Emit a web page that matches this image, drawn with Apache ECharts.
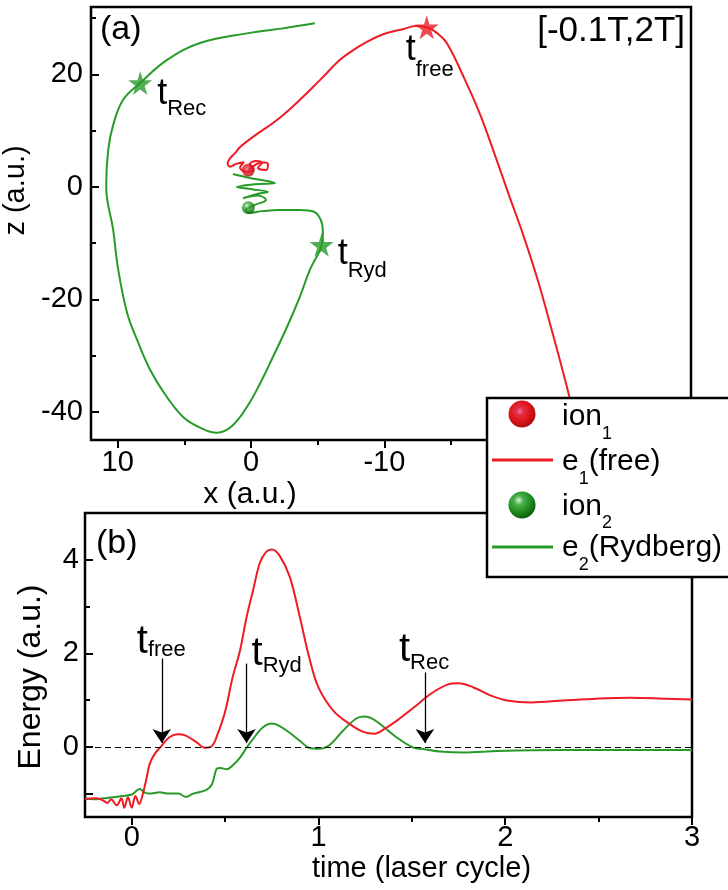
<!DOCTYPE html>
<html>
<head>
<meta charset="utf-8">
<script src="https://cdn.jsdelivr.net/npm/echarts@6/dist/echarts.min.js"></script>
<style>
  html, body { margin: 0; padding: 0; background: #fff; }
  #chart { width: 728px; height: 890px; }
</style>
</head>
<body>
<div id="chart"></div>
<script>
// ---- (a) electron trajectories in the x-z plane, window [-0.1T, 2T] ----
const e1X = [0.22, -0.3, -0.82, -1.27, -1.12, -0.52, -0.82, -0.37, 0.07, -0.15, 0.37, 0.82, 0.52, 1.12, 1.57, 1.75, 1.6, 1.2, 0.82, -0.15, -1.95, -3.67, -5.17, -6.67, -7.64, -8.46, -9.96, -11.46, -12.36, -13.18, -13.93, -14.68, -15.96, -17.15, -18.35, -19.4, -20.37, -21.5, -22.55, -23.75, -24.64];
const e1Z = [3.0, 3.9, 4.4, 4.1, 3.0, 3.4, 4.3, 4.6, 4.1, 3.0, 2.7, 3.4, 4.4, 4.1, 3.6, 4.2, 5.0, 6.0, 7.1, 8.9, 11.9, 15.5, 19.0, 22.6, 24.3, 25.5, 27.2, 28.1, 28.6, 28.4, 27.4, 25.6, 19.5, 13.1, 5.3, -1.8, -8.2, -16.5, -25.4, -36.1, -44.9];
const e2X = [1.35, 0.07, -1.8, -0.3, 1.05, -0.07, -1.27, -0.52, 0.6, -0.5, -1.12, -0.3, 0.37, 0.07, -0.82, -2.17, -3.67, -4.72, -5.24, -5.39, -5.3, -4.42, -3.67, -2.70, -1.65, -0.67, 0.3, 1.42, 2.55, 3.82, 5.09, 6.44, 7.57, 8.54, 9.29, 9.96, 10.34, 10.86, 10.71, 10.34, 9.59, 8.31, 6.29, 3.82, 0.07, -2.4, -4.79];
const e2Z = [2.3, 1.6, 0.7, 0.5, 0, -0.4, -0.9, -1.2, -2.0, -1.5, -2.3, -3.2, -4.1, -4.6, -4.3, -4.1, -4.1, -4.4, -5.9, -8.0, -10.3, -14.7, -19.5, -24.9, -30.2, -35.0, -39.1, -42.5, -43.7, -42.8, -40.9, -36.9, -32.5, -27.2, -22.4, -14.7, -7.6, 0, 6.6, 11.0, 15.5, 18.5, 22.6, 25.6, 27.4, 28.2, 29.1];
const ion1Pos = [0.2, 3.0];
const ion2Pos = [0.2, -3.7];
const starFree = [-13.18, 28.4];
const starRec = [8.31, 18.5];
const starRyd = [-5.3, -10.3];

// axis ticks of panel (a)
const xTicksA = [10, 0, -10, -20, -30];
const xMinorA = [5, -5, -15, -25];
const zTicksA = [20, 0, -20, -40];
const zMinorA = [30, 10, -10, -30];

// ---- (b) electron energies versus time ----
const t1 = [-0.25, -0.2, -0.16, -0.13, -0.11, -0.08, -0.055, -0.04, -0.02, 0.0, 0.02, 0.04, 0.06, 0.08, 0.096, 0.123, 0.16, 0.2, 0.247, 0.29, 0.35, 0.39, 0.43, 0.46, 0.5, 0.54, 0.58, 0.615, 0.65, 0.686, 0.72, 0.75, 0.79, 0.846, 0.9, 0.95, 1.0, 1.08, 1.17, 1.24, 1.3, 1.36, 1.42, 1.51, 1.6, 1.69, 1.75, 1.83, 1.92, 2.01, 2.14, 2.31, 2.49, 2.67, 2.85, 3.0];
const energy1 = [-1.12, -1.1, -1.13, -1.2, -1.12, -1.25, -1.1, -1.3, -1.08, -1.3, -1.05, -1.22, -1.0, -0.66, -0.37, -0.15, 0.02, 0.2, 0.27, 0.24, 0.09, -0.02, 0.02, 0.27, 0.75, 1.48, 2.06, 2.77, 3.35, 3.93, 4.17, 4.22, 4.1, 3.64, 2.78, 1.92, 1.27, 0.77, 0.48, 0.32, 0.28, 0.4, 0.56, 0.84, 1.13, 1.33, 1.36, 1.27, 1.1, 0.99, 0.95, 0.99, 1.03, 1.05, 1.03, 1.01];
const t2 = [-0.25, -0.2, -0.15, -0.1, -0.05, 0.0, 0.043, 0.07, 0.096, 0.15, 0.2, 0.25, 0.29, 0.33, 0.40, 0.43, 0.455, 0.475, 0.51, 0.54, 0.58, 0.615, 0.65, 0.7, 0.75, 0.79, 0.846, 0.9, 0.95, 1.0, 1.06, 1.13, 1.2, 1.24, 1.28, 1.33, 1.42, 1.51, 1.57, 1.65, 1.78, 1.96, 2.31, 2.67, 3.0];
const energy2 = [-1.1, -1.12, -1.1, -1.08, -1.05, -1.02, -0.9, -0.98, -1.0, -0.97, -1.0, -1.0, -1.07, -1.0, -0.92, -0.8, -0.47, -0.45, -0.48, -0.4, -0.23, -0.02, 0.17, 0.41, 0.5, 0.45, 0.3, 0.13, -0.02, -0.04, 0.04, 0.34, 0.6, 0.65, 0.62, 0.49, 0.2, -0.02, -0.05, -0.1, -0.12, -0.09, -0.07, -0.07, -0.07];

// characteristic instants marked by arrows (time, arrow start energy)
const arrowNames = ['free', 'Ryd', 'Rec'];
const arrowTimes = [0.161, 0.615, 1.57];
const arrowTops = [1.89, 1.78, 1.59];
const arrowTip = 0.08;

// axis ticks of panel (b)
const tTicksB = [0, 1, 2, 3];
const tMinorB = [0.5, 1.5, 2.5];
const eTicksB = [-1, 0, 2, 4];
const eLabelsB = [0, 2, 4];
const eMinorB = [1, 3];

const FONT = '"Liberation Sans", Arial, sans-serif';
const RED = '#ee1c24';
const GREEN = '#279a27';
const STAR = 'path://M50,0 L61,35 L98,35 L68,57 L79,91 L50,70 L21,91 L32,57 L2,35 L39,35 Z';

const zip = (a, b) => a.map((v, i) => [v, b[i]]);

function ballFill(kind) {
  if (kind === 'red') {
    return { type: 'radial', x: 0.42, y: 0.4, r: 0.62, colorStops: [
      { offset: 0, color: '#e878a8' }, { offset: 0.22, color: '#e43048' },
      { offset: 0.6, color: '#e01418' }, { offset: 1, color: '#a80c10' } ] };
  }
  return { type: 'radial', x: 0.38, y: 0.33, r: 0.7, colorStops: [
    { offset: 0, color: '#d8f4d8' }, { offset: 0.25, color: '#4cb04c' },
    { offset: 0.65, color: '#1d8a1d' }, { offset: 1, color: '#0c5c0c' } ] };
}

const tickStyle = { color: '#000', width: 2 };
const labelStyle = { color: '#000', fontSize: 29, fontFamily: FONT };
const nameStyle = (size, pad) => ({ color: '#000', fontSize: size, fontFamily: FONT, padding: pad || 0 });

function axisPair(base, major, minor, labels, majorLen, minorLen, inside, margin) {
  const main = Object.assign({}, base, {
    axisLine: { show: false, onZero: false }, splitLine: { show: false },
    axisTick: { show: true, inside: inside, length: majorLen, customValues: major, lineStyle: tickStyle },
    axisLabel: Object.assign({ show: true, margin: margin, customValues: labels }, labelStyle)
  });
  const sub = Object.assign({}, base, {
    name: '', axisLine: { show: false, onZero: false }, splitLine: { show: false }, axisLabel: { show: false },
    axisTick: { show: true, inside: inside, length: minorLen, customValues: minor, lineStyle: tickStyle }
  });
  return [main, sub];
}

const xA = axisPair({ gridIndex: 0, type: 'value', min: -33, max: 12, inverse: true, position: 'bottom',
  name: 'x (a.u.)', nameLocation: 'middle', nameGap: 40, nameTextStyle: nameStyle(30, [0, 282, 0, 0]) },
  xTicksA, xMinorA, xTicksA, 8, 5, false, 8);
const yA = axisPair({ gridIndex: 0, type: 'value', min: -45, max: 32, position: 'left',
  name: 'z (a.u.)', nameLocation: 'middle', nameRotate: 90, nameGap: 48, nameTextStyle: nameStyle(29, [0, 0, 0, 66]) },
  zTicksA, zMinorA, zTicksA, 8, 5, true, 8);
const xB = axisPair({ gridIndex: 1, type: 'value', min: -0.25, max: 3, position: 'bottom',
  name: 'time (laser cycle)', nameLocation: 'middle', nameGap: 37, nameTextStyle: nameStyle(29, [0, 0, 0, 66]) },
  tTicksB, tMinorB, tTicksB, 8, 5, false, 6);
const yB = axisPair({ gridIndex: 1, type: 'value', min: -1.5, max: 5, position: 'left',
  name: 'Energy (a.u.)', nameLocation: 'middle', nameRotate: 90, nameGap: 38, nameTextStyle: nameStyle(32, [0, 24, 0, 0]) },
  eTicksB, eMinorB, eLabelsB, 8, 5, true, 6);

const chart = echarts.init(document.getElementById('chart'), null, { renderer: 'canvas' });

chart.setOption({
  animation: false,
  backgroundColor: '#fff',
  grid: [
    { left: 91, top: 7, width: 600, height: 433, show: true, borderColor: '#000', borderWidth: 2.5,
      backgroundColor: 'transparent', containLabel: false, outerBoundsMode: 'none' },
    { left: 85, top: 513, width: 607, height: 304, show: true, borderColor: '#000', borderWidth: 2.5,
      backgroundColor: 'transparent', containLabel: false, outerBoundsMode: 'none' }
  ],
  xAxis: [xA[0], xA[1], xB[0], xB[1]],
  yAxis: [yA[0], yA[1], yB[0], yB[1]],
  series: [
    { name: 'e1(free)', type: 'line', xAxisIndex: 0, yAxisIndex: 0, data: zip(e1X, e1Z),
      showSymbol: false, smooth: 0.4, lineStyle: { color: RED, width: 2 }, z: 3 },
    { name: 'e2(Rydberg)', type: 'line', xAxisIndex: 0, yAxisIndex: 0, data: zip(e2X, e2Z),
      showSymbol: false, smooth: 0.4, lineStyle: { color: GREEN, width: 2 }, z: 4 },
    { name: 'ion1', type: 'scatter', xAxisIndex: 0, yAxisIndex: 0, data: [ion1Pos],
      symbol: 'circle', symbolSize: 13, itemStyle: { color: ballFill('red') }, z: 6 },
    { name: 'ion2', type: 'scatter', xAxisIndex: 0, yAxisIndex: 0, data: [ion2Pos],
      symbol: 'circle', symbolSize: 13, itemStyle: { color: ballFill('green') }, z: 6 },
    { name: 'stars-free', type: 'scatter', xAxisIndex: 0, yAxisIndex: 0, data: [starFree],
      symbol: STAR, symbolSize: 24, itemStyle: { color: RED }, z: 7 },
    { name: 'stars-rec', type: 'scatter', xAxisIndex: 0, yAxisIndex: 0, data: [starRec, starRyd],
      symbol: STAR, symbolSize: 24, itemStyle: { color: GREEN }, z: 7 },
    { name: 'E1', type: 'line', xAxisIndex: 2, yAxisIndex: 2, data: zip(t1, energy1),
      showSymbol: false, smooth: 0.35, lineStyle: { color: RED, width: 2 }, z: 4,
      markLine: {
        silent: true, animation: false, symbol: ['none', 'arrow'], symbolSize: 14,
        lineStyle: { color: '#000', width: 1.3, type: 'solid' }, label: { show: false },
        data: arrowTimes.map((t, i) => [{ coord: [t, arrowTops[i]] }, { coord: [t, arrowTip] }])
      } },
    { name: 'E2', type: 'line', xAxisIndex: 2, yAxisIndex: 2, data: zip(t2, energy2),
      showSymbol: false, smooth: 0.35, lineStyle: { color: GREEN, width: 2 }, z: 3,
      markLine: {
        silent: true, animation: false, symbol: 'none',
        lineStyle: { color: '#000', width: 1, type: [6, 4] }, label: { show: false },
        data: [{ yAxis: 0 }]
      } }
  ]
});

// ---- text annotations (labels with subscripts, legend) ----
const measureCtx = document.createElement('canvas').getContext('2d');
function textWidth(str, size) {
  measureCtx.font = size + 'px ' + FONT;
  return measureCtx.measureText(str).width;
}
// one text run, placed by its left edge and alphabetic baseline
function run(left, baseline, str, size, align) {
  return { type: 'text', z: 120, silent: true, style: {
    text: str, x: left, y: baseline - 0.347 * size, fontSize: size, fontFamily: FONT, fill: '#000',
    align: align || 'left', verticalAlign: 'middle', textAlign: align || 'left', textVerticalAlign: 'middle' } };
}
// consecutive runs: [text, size, baseline shift]
function runs(left, baseline, parts) {
  const out = [];
  let x = left;
  parts.forEach(p => { out.push(run(x, baseline + p[2], p[0], p[1])); x += textWidth(p[0], p[1]); });
  return out;
}

const toA = p => chart.convertToPixel({ xAxisIndex: 0, yAxisIndex: 0 }, p);
const toB = p => chart.convertToPixel({ xAxisIndex: 2, yAxisIndex: 2 }, p);

const g = [];
// panel tags
g.push(run(100, 41, '(a)', 34));
g.push(run(96, 555, '(b)', 34));
g.push(run(685, 43, '[-0.1T,2T]', 35, 'right'));

// star labels in (a)
const pf = toA(starFree), pr = toA(starRec), py = toA(starRyd);
g.push(...runs(pf[0] - 21, pf[1] + 35, [['t', 36, 0], ['free', 22, 15]]));
g.push(...runs(pr[0] + 17, pr[1] + 24, [['t', 36, 0], ['Rec', 22, 10]]));
g.push(...runs(py[0] + 16, py[1] + 22, [['t', 36, 0], ['Ryd', 22, 12]]));

// arrow labels in (b)
const labelShift = { free: [-25, -3, 2], Ryd: [5, 4, 6], Rec: [-26, -9, 7] };
arrowTimes.forEach((t, i) => {
  const p = toB([t, arrowTops[i]]);
  const s = labelShift[arrowNames[i]];
  g.push(...runs(p[0] + s[0], p[1] + s[1], [['t', 40, 0], [arrowNames[i], 22, s[2]]]));
});

// legend box
g.push({ type: 'rect', z: 110, silent: true, shape: { x: 487, y: 398, width: 260, height: 179 },
  style: { fill: '#fff', stroke: '#000', lineWidth: 2.5 } });
g.push({ type: 'circle', z: 115, silent: true, shape: { cx: 522, cy: 414, r: 13.5 }, style: { fill: ballFill('red') } });
g.push({ type: 'line', z: 115, silent: true, shape: { x1: 492, y1: 460, x2: 553, y2: 460 }, style: { stroke: RED, lineWidth: 3 } });
g.push({ type: 'circle', z: 115, silent: true, shape: { cx: 522, cy: 505, r: 13.5 }, style: { fill: ballFill('green') } });
g.push({ type: 'line', z: 115, silent: true, shape: { x1: 492, y1: 547, x2: 553, y2: 547 }, style: { stroke: GREEN, lineWidth: 3 } });
g.push(...runs(562, 427, [['ion', 30, 0], ['1', 18, 13]]));
g.push(...runs(562, 472, [['e', 30, 0], ['1', 18, 13], ['(free)', 30, 0]]));
g.push(...runs(562, 517, [['ion', 30, 0], ['2', 18, 12]]));
g.push(...runs(562, 558, [['e', 30, 0], ['2', 18, 13], ['(Rydberg)', 30, 0]]));

chart.setOption({ graphic: g });
</script>
</body>
</html>
